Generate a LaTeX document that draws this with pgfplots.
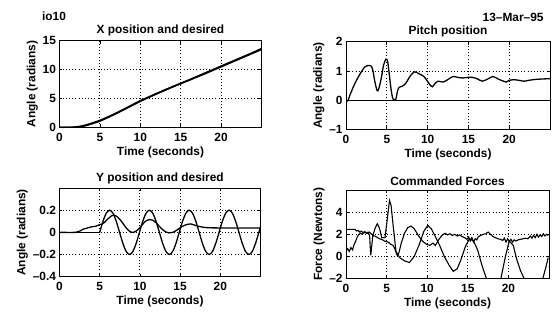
\documentclass[border=0pt]{standalone}
\usepackage{pgfplots}
\pgfplotsset{compat=1.18}
\usepackage{fontspec}
\setmainfont{Liberation Sans}
\begin{document}
\pgfplotsset{
  mat/.style={
    scale only axis,
    anchor=south west,
    xmin=0, xmax=25,
    xtick={0,5,10,15,20},
    tick align=inside,
    major tick length=3bp,
    minor tick num=0,
    axis line style={line width=0.9bp},
    major tick style={line width=0.7bp, black},
    xmajorgrids=true, ymajorgrids=true,
    major grid style={line width=0.8bp, dash pattern=on 0.8bp off 2.4bp, black},
    /pgf/number format/assume math mode=true,
    tick label style={font=\fontsize{12}{14}\selectfont\bfseries},
    label style={font=\fontsize{12}{14}\selectfont\bfseries},
    title style={font=\fontsize{12}{14}\selectfont\bfseries, yshift=-5bp},
    xticklabel style={yshift=-2bp},
    xlabel={Time (seconds)},
    xlabel style={yshift=1bp},
    ylabel style={yshift=-2bp},
    cycle list={{black,no marks}},
    every axis plot/.append style={line width=1.3bp, black},
    clip=true,
  }
}
\begin{tikzpicture}
\useasboundingbox (0,0) rectangle (555bp,320bp);
\node[anchor=west, font=\fontsize{12}{14}\selectfont\bfseries] at (36bp,304bp) {io10};
\node[anchor=east, font=\fontsize{12}{14}\selectfont\bfseries] at (547bp,302bp) {13--Mar--95};

% Top-left: X position
\begin{axis}[mat, at={(57bp,192bp)}, width=203bp, height=87bp,
  ymin=0, ymax=15, ytick={0,5,10,15},
  title={X position and desired}, ylabel={Angle (radians)}]
\addplot+[smooth, line width=1.6bp] coordinates {(0,0)(1,0)(2,0.05)(3,0.3)(4,0.72)(5,1.2)(6,1.8)(7,2.45)(8,3.15)(9,3.88)(10,4.6)(12,5.85)(14,7.05)(16,8.2)(18,9.4)(20,10.6)(22,11.8)(24,13.0)(25,13.65)};
\addplot+[smooth, line width=1.6bp] coordinates {(0,0)(1,0)(2,0.02)(3,0.22)(4,0.62)(5,1.1)(6,1.72)(7,2.4)(8,3.1)(9,3.82)(10,4.52)(12,5.8)(14,7.0)(16,8.15)(18,9.3)(20,10.5)(22,11.7)(24,12.9)(25,13.5)};
\end{axis}

% Top-right: Pitch
\begin{axis}[mat, at={(345bp,190bp)}, width=205bp, height=88bp,
  ymin=-1, ymax=2, ytick={-1,0,1,2}, yticklabels={--1,0,1,2},
  title={Pitch position}, ylabel={Angle (radians)}]
\addplot+[] coordinates {(0,0)(25,0)};
\addplot+[smooth] coordinates {(0,0)(0.2,-0.03)(0.5,0.19)(1.08,0.57)(1.7,0.89)(2.3,1.14)(2.7,1.19)(3.1,1.16)(3.3,1.0)(3.5,0.68)(3.8,0.33)(4.0,0.38)(4.3,0.73)(4.6,1.2)(4.9,1.41)(5.1,1.32)(5.3,0.89)(5.5,0.41)(5.7,0.09)(5.9,0.0)(6.1,0.03)(6.3,0.3)(6.5,0.44)(6.9,0.48)(7.3,0.57)(7.9,0.84)(8.4,0.97)(8.9,0.91)(9.5,0.82)(9.9,0.68)(10.3,0.52)(10.6,0.46)(10.9,0.57)(11.3,0.65)(11.9,0.62)(12.5,0.71)(13.1,0.81)(13.7,0.78)(14.3,0.76)(14.9,0.78)(15.5,0.78)(16.1,0.73)(16.7,0.65)(17.4,0.73)(18.0,0.81)(18.6,0.73)(19.2,0.66)(19.6,0.62)(20.0,0.68)(20.6,0.70)(21.2,0.68)(21.8,0.65)(22.4,0.68)(23.2,0.71)(24.4,0.73)(25,0.73)};
\end{axis}

% Bottom-left: Y position
\begin{axis}[mat, at={(57bp,42bp)}, width=202bp, height=89bp,
  ymin=-0.4, ymax=0.4, ytick={-0.4,-0.2,0,0.2}, yticklabels={--0.4,--0.2,0,0.2},
  title={Y position and desired}, ylabel={Angle (radians)}]
\addplot+[] coordinates {(0,0)(5,0)};
\addplot+[smooth] coordinates {(5.0,0)(5.4125,0.1)(5.825,0.1732)(6.2375,0.2)(6.65,0.1732)(7.0625,0.1)(7.475,0)(7.8875,-0.1)(8.3,-0.1732)(8.7125,-0.2)(9.125,-0.1732)(9.5375,-0.1)(9.95,0)(10.3625,0.1)(10.775,0.1732)(11.1875,0.2)(11.6,0.1732)(12.0125,0.1)(12.425,0)(12.8375,-0.1)(13.25,-0.1732)(13.6625,-0.2)(14.075,-0.1732)(14.4875,-0.1)(14.9,0)(15.3125,0.1)(15.725,0.1732)(16.1375,0.2)(16.55,0.1732)(16.9625,0.1)(17.375,0)(17.7875,-0.1)(18.2,-0.1732)(18.6125,-0.2)(19.025,-0.1732)(19.4375,-0.1)(19.85,0)(20.2625,0.1)(20.675,0.1732)(21.0875,0.2)(21.5,0.1732)(21.9125,0.1)(22.325,0)(22.7375,-0.1)(23.15,-0.1732)(23.5625,-0.2)(23.975,-0.1732)(24.3875,-0.1)(24.8,0)(25,0.05)};
\addplot+[smooth] coordinates {(0,0)(2,0)(2.5,0.01)(3,0.03)(3.5,0.04)(4,0.05)(4.5,0.055)(5,0.07)(5.3,0.075)(5.6,0.09)(6,0.12)(6.5,0.15)(6.8,0.155)(7.2,0.14)(7.7,0.1)(8.2,0.05)(8.7,0.01)(9.2,0.0)(9.7,0.02)(10.2,0.06)(10.7,0.1)(11.2,0.115)(11.6,0.11)(12.1,0.08)(12.6,0.04)(13.1,0.01)(13.6,-0.005)(14.1,0.0)(14.6,0.02)(15.2,0.05)(15.8,0.07)(16.4,0.075)(17,0.06)(17.6,0.05)(18.4,0.042)(20,0.04)(25,0.04)};
\end{axis}

% Bottom-right: Commanded forces
\begin{axis}[mat, at={(345bp,40bp)}, width=204bp, height=89bp,
  ymin=-2, ymax=6, ytick={-2,0,2,4}, yticklabels={--2,0,2,4},
  title={Commanded Forces}, ylabel={Force (Newtons)}]
\addplot+[line width=1.1bp] coordinates {(0,0.5)(0.2,0.7)(0.4,0.45)(0.6,0.8)(0.8,0.6)(1.0,1.1)(1.2,1.4)(1.4,1.8)(1.6,2.0)(1.8,2.1)(2.0,2.0)(2.3,2.2)(2.6,2.1)(2.9,2.2)(3.3,1.9)(3.6,2.6)(3.85,2.95)(4.1,2.6)(4.4,1.7)(4.8,1.7)(5.1,3.5)(5.35,5.05)(5.55,4.6)(5.8,2.8)(6.15,0.45)(6.6,-0.1)(7.2,-0.4)(7.8,-0.55)(8.4,0.0)(9.0,1.05)(9.6,2.3)(10.06,2.8)(10.5,2.5)(11.0,1.8)(11.5,1.05)(12.1,0.0)(12.7,-0.8)(13.2,-1.35)(13.7,-1.1)(14.2,-0.2)(14.7,0.9)(15.2,1.6)(15.7,1.4)(16.2,0.6)(16.7,-0.7)(17.2,-1.8)(17.7,-2.8)(18.2,-3.3)(18.7,-2.8)(19.1,-1.9)(19.6,-0.1)(20.1,1.4)(20.6,1.0)(21.0,-0.2)(21.5,-1.3)(22.0,-2.1)(22.6,-3.0)(23.1,-3.5)(23.7,-3.0)(24.2,-2.1)(24.6,-1.0)(24.9,-0.1)};
\addplot+[line width=1.1bp] coordinates {(0,2.45)(1.1,2.45)(1.3,2.3)(1.5,2.35)(1.7,2.2)(1.9,2.3)(2.1,2.15)(2.3,2.25)(2.5,2.1)(2.7,2.2)(2.9,1.9)(3.0,0.6)(3.05,0.1)(3.2,1.2)(3.3,1.9)(3.5,1.85)(3.8,1.75)(4.1,1.6)(4.4,1.55)(4.7,1.4)(4.95,1.35)(5.2,1.3)(5.5,1.1)(5.8,1.0)(6.0,0.7)(6.3,0.1)(6.5,0.3)(6.8,1.2)(7.2,2.1)(7.6,2.6)(8.0,2.75)(8.4,2.5)(8.9,1.9)(9.4,1.4)(9.9,1.1)(10.3,1.0)(10.7,1.2)(11.0,1.0)(11.4,1.5)(11.8,1.9)(12.2,2.1)(12.5,1.95)(12.8,2.05)(13.1,1.9)(13.4,2.0)(13.7,1.85)(14.0,1.95)(14.3,1.8)(14.6,1.7)(14.9,1.55)(15.1,1.75)(15.3,1.4)(15.5,1.7)(15.7,1.3)(15.9,1.6)(16.1,1.5)(16.3,1.8)(16.6,1.9)(16.9,2.0)(17.2,2.05)(17.5,2.2)(17.8,2.0)(18.1,1.8)(18.4,1.7)(18.7,1.6)(19.0,1.55)(19.3,1.45)(19.5,1.65)(19.7,1.3)(19.9,1.6)(20.1,1.35)(20.3,1.55)(20.5,1.3)(20.7,1.5)(20.9,1.4)(21.2,1.5)(21.5,1.55)(21.8,1.6)(22.1,1.65)(22.4,1.6)(22.7,1.85)(22.9,1.65)(23.1,1.9)(23.3,1.7)(23.5,2.0)(23.7,1.75)(23.9,1.95)(24.1,1.8)(24.3,2.05)(24.5,1.85)(24.7,2.0)(24.9,1.9)};
\end{axis}
\end{tikzpicture}
\end{document}
